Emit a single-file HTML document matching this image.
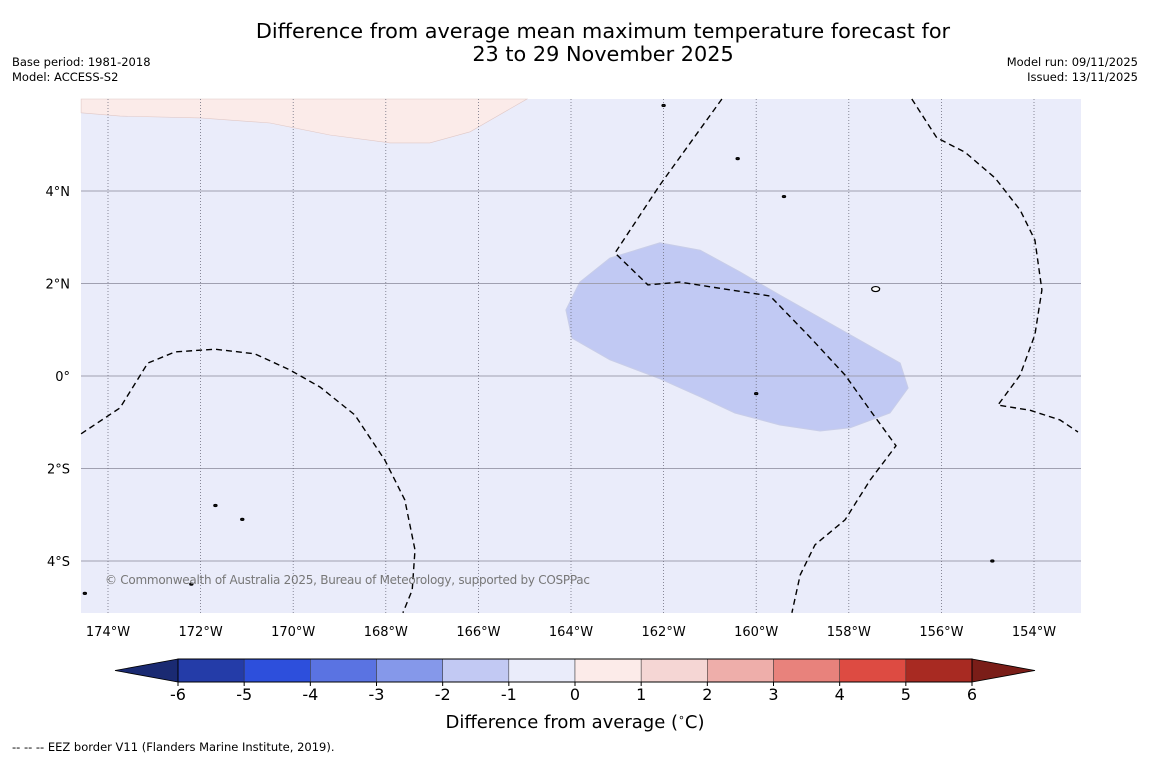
<!DOCTYPE html>
<html><head><meta charset="utf-8"><style>
html,body{margin:0;padding:0;background:#fff;}
body{width:1150px;height:758px;overflow:hidden;font-family:"Liberation Sans","DejaVu Sans",sans-serif;}
svg text{font-family:"DejaVu Sans","Liberation Sans",sans-serif;}
</style></head><body>
<svg id="chart" width="1150" height="758" xmlns="http://www.w3.org/2000/svg">
<rect x="0" y="0" width="1150" height="758" fill="#fff"/>
<text x="603" y="38" font-size="20.8" text-anchor="middle" fill="#000">Difference from average mean maximum temperature forecast for</text>
<text x="603" y="61" font-size="20.8" text-anchor="middle" fill="#000">23 to 29 November 2025</text>
<text x="12" y="66" font-size="11.5">Base period: 1981-2018</text>
<text x="12" y="81" font-size="11.5">Model: ACCESS-S2</text>
<text x="1138" y="66" font-size="11.5" text-anchor="end">Model run: 09/11/2025</text>
<text x="1138" y="81" font-size="11.5" text-anchor="end">Issued: 13/11/2025</text>
<g id="map"></g>
<g id="cbar"></g>
<text x="575" y="728" font-size="18" text-anchor="middle">Difference from average (<tspan font-size="11" dy="-7">∘</tspan><tspan dy="7">C)</tspan></text>
<text x="12" y="751" font-size="11.5">--  --  -- EEZ border V11 (Flanders Marine Institute, 2019).</text>
</svg>
<script>
const lonTicks=[-174,-172,-170,-168,-166,-164,-162,-160,-158,-156,-154];
const lonLabels=["174°W","172°W","170°W","168°W","166°W","164°W","162°W","160°W","158°W","156°W","154°W"];
const latTicks=[4,2,0,-2,-4];
const latLabels=["4°N","2°N","0°","2°S","4°S"];
const cbLevels=[-6,-5,-4,-3,-2,-1,0,1,2,3,4,5,6];
const cbColors=["#243ca8","#2d4fdc","#5a73e2","#8598ea","#c2c9f3","#eaecfa","#fcebe9","#f5d6d4","#eeaeaa","#e8827c","#dd4b42","#a82a22"];
const cbLow="#1a2a72", cbHigh="#7a1d18";
const pinkLon=[-174.58,-174.58,-173.74,-172.01,-170.5,-169.21,-167.91,-167.05,-166.18,-164.95];
const pinkLat=[5.99,5.69,5.62,5.58,5.47,5.21,5.04,5.04,5.28,5.99];
const blobLon=[-163.81,-163.16,-162.08,-161.21,-160.35,-159.49,-157.97,-156.89,-156.72,-157.11,-157.97,-158.62,-159.49,-160.46,-161.21,-162.08,-163.16,-163.98,-164.11];
const blobLat=[2.03,2.55,2.88,2.72,2.25,1.75,0.89,0.28,-0.26,-0.80,-1.12,-1.19,-1.06,-0.80,-0.45,-0.06,0.35,0.82,1.43];
const eez1Lon=[-174.58,-173.74,-173.14,-172.55,-171.69,-170.83,-170.07,-169.42,-168.67,-168.02,-167.59,-167.37,-167.43,-167.63];
const eez1Lat=[-1.25,-0.69,0.28,0.52,0.58,0.48,0.13,-0.24,-0.84,-1.82,-2.68,-3.76,-4.63,-5.12];
const eez2Lon=[-160.74,-162.08,-163.05,-162.34,-161.65,-159.70,-158.84,-158.08,-157.54,-156.98,-157.54,-158.08,-158.73,-159.05,-159.23];
const eez2Lat=[5.99,4.13,2.66,1.97,2.03,1.73,0.84,0.02,-0.74,-1.51,-2.25,-3.11,-3.65,-4.30,-5.12];
const eez3Lon=[-156.64,-156.10,-155.49,-154.84,-154.30,-153.98,-153.83,-153.98,-154.30,-154.78,-154.09,-153.44,-153.05];
const eez3Lat=[5.99,5.15,4.84,4.28,3.59,2.94,1.86,0.89,0.02,-0.63,-0.74,-0.95,-1.21];
const islandLon=[-157.42,-171.68,-172.2,-159.4,-160.4,-162.0,-171.1,-154.9,-174.5,-160.0];
const islandLat=[1.88,-2.8,-4.5,3.88,4.7,5.85,-3.1,-4.0,-4.7,-0.38];

const X0=81,X1=1081,Y0=99,Y1=613;
const xs=lon=>108+(lon+174)*46.3;
const ys=lat=>376-lat*46.25;
const NS="http://www.w3.org/2000/svg";
function mk(tag,attrs,parent){const e=document.createElementNS(NS,tag);for(const k in attrs)e.setAttribute(k,attrs[k]);parent.appendChild(e);return e;}
const map=document.getElementById('map');
let r=mk('rect',{x:X0,y:Y0,width:X1-X0,height:Y1-Y0,fill:"#eaecfa"},map);


function pts(lo,la){return lo.map((v,i)=>xs(v).toFixed(1)+","+ys(la[i]).toFixed(1)).join(" ");}
let p=mk('polygon',{points:pts(pinkLon,pinkLat),fill:"#fbebe9",stroke:"#e0c8c6","stroke-width":0.6},map);


p=mk('polygon',{points:pts(blobLon,blobLat),fill:"#c1c9f3",stroke:"#c8cde8","stroke-width":1},map);


latTicks.forEach((t,i)=>{
 let l=mk('line',{x1:X0,x2:X1,y1:ys(t),y2:ys(t),stroke:"#a0a0b0","stroke-width":1},map);
 
 
 let tx=mk('text',{x:70,y:ys(t)+5,"font-size":13,"text-anchor":"end"},map);tx.textContent=latLabels[i];
 
 
});
lonTicks.forEach((t,i)=>{
 let l=mk('line',{x1:xs(t),x2:xs(t),y1:Y0,y2:Y1,stroke:"#707080","stroke-width":0.8,"stroke-dasharray":"1,2"},map);
 
 
 let tx=mk('text',{x:xs(t),y:636,"font-size":13,"text-anchor":"middle"},map);tx.textContent=lonLabels[i];
 
 
});
[[eez1Lon,eez1Lat],[eez2Lon,eez2Lat],[eez3Lon,eez3Lat]].forEach(([lo,la])=>{
 let l=mk('polyline',{points:pts(lo,la),fill:"none",stroke:"#000","stroke-width":1.4,"stroke-dasharray":"6,4"},map);
 
 
});
islandLon.forEach((lo,i)=>{
 let e=mk('ellipse',{cx:xs(lo),cy:ys(islandLat[i]),rx:i==0?4:1.6,ry:i==0?2.5:1,fill:i==0?"#fff":"#222",stroke:"#000","stroke-width":1.2},map);
 
 
});
let cp=mk('text',{x:105,y:584,"font-size":12,fill:"#777","textLength":485},map);cp.textContent="© Commonwealth of Australia 2025, Bureau of Meteorology, supported by COSPPac";



const cb=document.getElementById('cbar');
const CX0=178,CX1=972,CY=659,CH=23;
const cx=v=>CX0+(v-cbLevels[0])/(cbLevels[cbLevels.length-1]-cbLevels[0])*(CX1-CX0);
let a=mk('polygon',{points:`${CX0},${CY} 115,${CY+CH/2} ${CX0},${CY+CH}`,fill:cbLow,stroke:"#000","stroke-width":0.8},cb);


a=mk('polygon',{points:`${CX1},${CY} 1035,${CY+CH/2} ${CX1},${CY+CH}`,fill:cbHigh,stroke:"#000","stroke-width":0.8},cb);


cbColors.forEach((c,i)=>{
 let s=mk('rect',{x:cx(cbLevels[i]),y:CY,width:cx(cbLevels[i+1])-cx(cbLevels[i]),height:CH,fill:c,stroke:"#333","stroke-width":0.5},cb);
 
 
});
mk('rect',{x:CX0,y:CY,width:CX1-CX0,height:CH,fill:"none",stroke:"#000","stroke-width":1},cb);
cbLevels.forEach(v=>{
 mk('line',{x1:cx(v),x2:cx(v),y1:CY+CH,y2:CY+CH+4,stroke:"#000"},cb);
 let t=mk('text',{x:cx(v),y:700,"font-size":16,"text-anchor":"middle"},cb);t.textContent=String(v);
 
 
});
</script>
</body></html>
